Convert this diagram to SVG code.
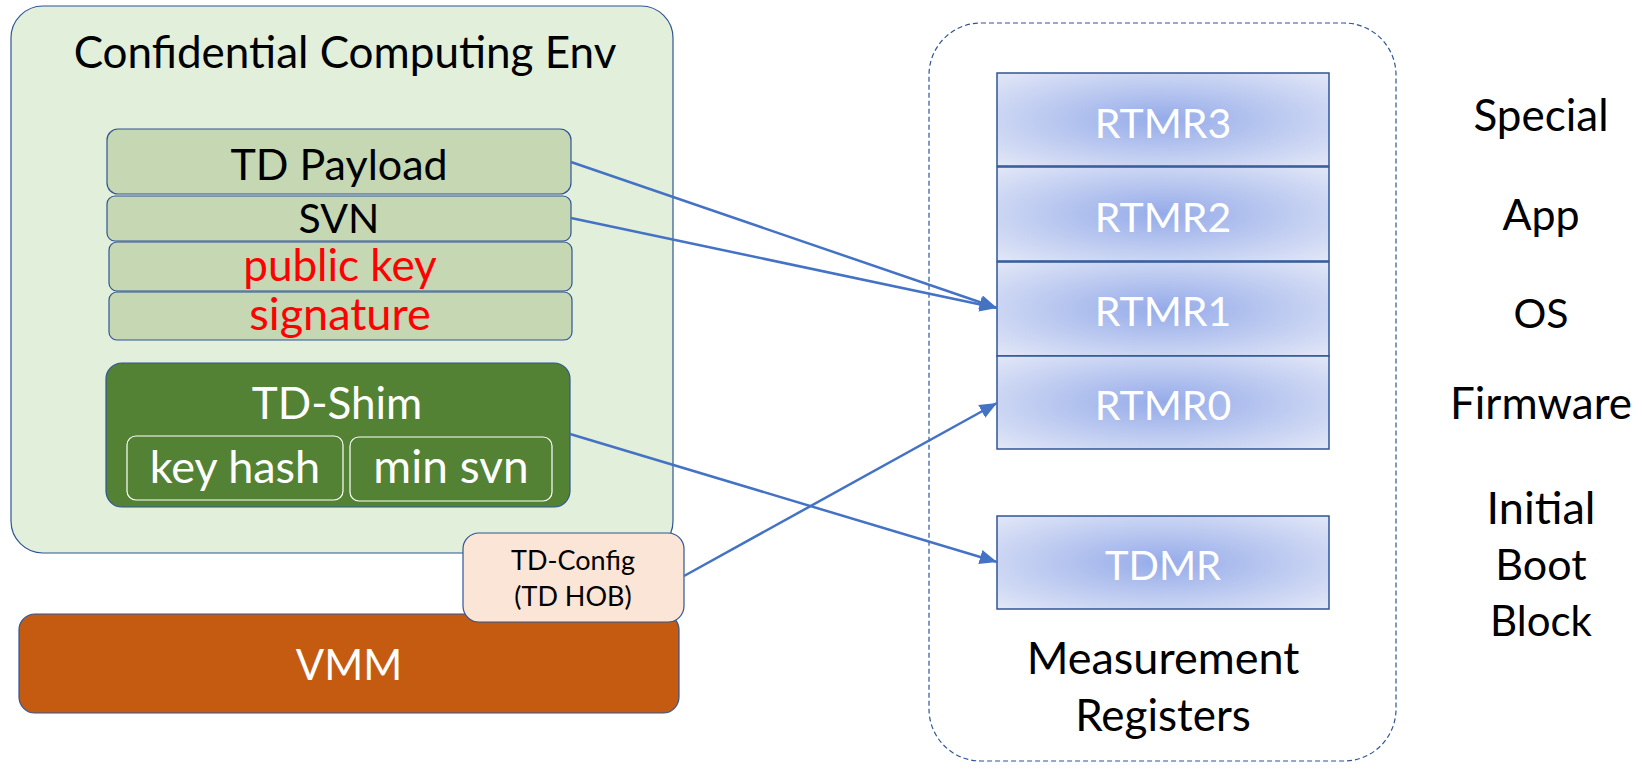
<svg xmlns="http://www.w3.org/2000/svg" width="1642" height="770" viewBox="0 0 1642 770">
  <defs>
    <radialGradient id="regFill" cx="0.5" cy="0.5" r="0.72">
      <stop offset="0" stop-color="#95ABE9"/>
      <stop offset="1" stop-color="#E4E9F8"/>
    </radialGradient>
    <marker id="arrow" viewBox="0 0 12 10" refX="12" refY="5" markerWidth="7" markerHeight="5.8" orient="auto" markerUnits="strokeWidth">
      <path d="M0,0 L12,5 L0,10 z" fill="#4472C4"/>
    </marker>
  </defs>
  <style>
    text { font-family: Lato, "Open Sans", "Liberation Sans", sans-serif; text-anchor: middle; }
    .blk { fill: #000000; }
    .wht { fill: #FFFFFF; }
    .red { fill: #FF0000; }
    .layer { fill: #C5D7B3; stroke: #2F5597; stroke-width: 1.2; }
    .reg { fill: url(#regFill); stroke: #2F5597; stroke-width: 1.5; }
    .conn { fill: none; stroke: #4472C4; stroke-width: 2.5; marker-end: url(#arrow); }
  </style>

  <rect width="1642" height="770" fill="#FFFFFF"/>

  <!-- confidential computing environment -->
  <g id="cce">
    <rect x="11" y="6" width="662" height="547" rx="32" fill="#E2EFDA" stroke="#2F5597" stroke-width="1.2"/>
    <text x="345" y="68" font-size="44" class="blk">Confidential Computing Env</text>
  </g>

  <!-- payload layers -->
  <g id="td-payload">
    <rect x="107" y="129" width="464" height="65" rx="11" class="layer"/>
    <text x="339" y="180" font-size="43" class="blk">TD Payload</text>
  </g>
  <g id="svn">
    <rect x="107" y="196" width="464" height="45" rx="8" class="layer"/>
    <text x="339" y="233" font-size="41" class="blk">SVN</text>
  </g>
  <g id="public-key">
    <rect x="109" y="242" width="463" height="49" rx="8" class="layer"/>
    <text x="340" y="281" font-size="44" class="red">public key</text>
  </g>
  <g id="signature">
    <rect x="109" y="292" width="463" height="48" rx="8" class="layer"/>
    <text x="340" y="330" font-size="45" class="red">signature</text>
  </g>

  <!-- shim -->
  <g id="td-shim">
    <rect x="106" y="363" width="464" height="144" rx="16" fill="#548235" stroke="#2F5597" stroke-width="1.2"/>
    <text x="337" y="419" font-size="44" class="wht">TD-Shim</text>
    <rect x="127" y="436" width="216" height="64" rx="9" fill="none" stroke="#FFFFFF" stroke-width="1.2"/>
    <text x="235" y="483" font-size="45" class="wht">key hash</text>
    <rect x="350" y="437" width="202" height="64" rx="9" fill="none" stroke="#FFFFFF" stroke-width="1.2"/>
    <text x="451" y="483" font-size="46" class="wht">min svn</text>
  </g>

  <!-- VMM -->
  <g id="vmm">
    <rect x="19" y="614" width="660" height="99" rx="16" fill="#C55A11" stroke="#2F5597" stroke-width="1.2"/>
    <text x="349" y="680" font-size="42" class="wht">VMM</text>
  </g>

  <!-- TD-Config -->
  <g id="td-config">
    <rect x="463" y="533" width="221" height="89" rx="16" fill="#FBE5D6" stroke="#2F5597" stroke-width="1.2"/>
    <text x="573" y="570" font-size="27" class="blk">TD-Config</text>
    <text x="573" y="606" font-size="27" class="blk">(TD HOB)</text>
  </g>

  <!-- measurement registers -->
  <g id="measurement-registers">
    <rect x="929" y="23" width="467" height="738" rx="52" fill="none" stroke="#2F5597" stroke-width="1.2" stroke-dasharray="5 3"/>
    <text x="1163" y="674" font-size="45" class="blk">Measurement</text>
    <text x="1163" y="731" font-size="44" class="blk">Registers</text>
  </g>
  <g id="rtmr3">
    <rect x="997" y="73" width="332" height="93" class="reg"/>
    <text x="1163" y="138" font-size="41" class="wht">RTMR3</text>
  </g>
  <g id="rtmr2">
    <rect x="997" y="167" width="332" height="94" class="reg"/>
    <text x="1163" y="232" font-size="41" class="wht">RTMR2</text>
  </g>
  <g id="rtmr1">
    <rect x="997" y="262" width="332" height="94" class="reg"/>
    <text x="1163" y="326" font-size="41" class="wht">RTMR1</text>
  </g>
  <g id="rtmr0">
    <rect x="997" y="356" width="332" height="93" class="reg"/>
    <text x="1163" y="420" font-size="41" class="wht">RTMR0</text>
  </g>
  <g id="tdmr">
    <rect x="997" y="516" width="332" height="93" class="reg"/>
    <text x="1163" y="580" font-size="40" class="wht">TDMR</text>
  </g>

  <!-- register roles -->
  <g id="roles">
    <text x="1541" y="131" font-size="44" class="blk">Special</text>
    <text x="1541" y="230" font-size="43" class="blk">App</text>
    <text x="1541" y="328" font-size="41" class="blk">OS</text>
    <text x="1541" y="419" font-size="44" class="blk">Firmware</text>
    <text x="1541" y="524" font-size="45" class="blk">Initial</text>
    <text x="1541" y="580" font-size="43" class="blk">Boot</text>
    <text x="1541" y="636" font-size="42" class="blk">Block</text>
  </g>

  <!-- connectors -->
  <g id="connectors">
    <line x1="571" y1="162" x2="997" y2="308" class="conn"/>
    <line x1="571" y1="218" x2="997" y2="308" class="conn"/>
    <line x1="684" y1="576" x2="997" y2="403" class="conn"/>
    <line x1="570" y1="434" x2="997" y2="562" class="conn"/>
  </g>
</svg>
